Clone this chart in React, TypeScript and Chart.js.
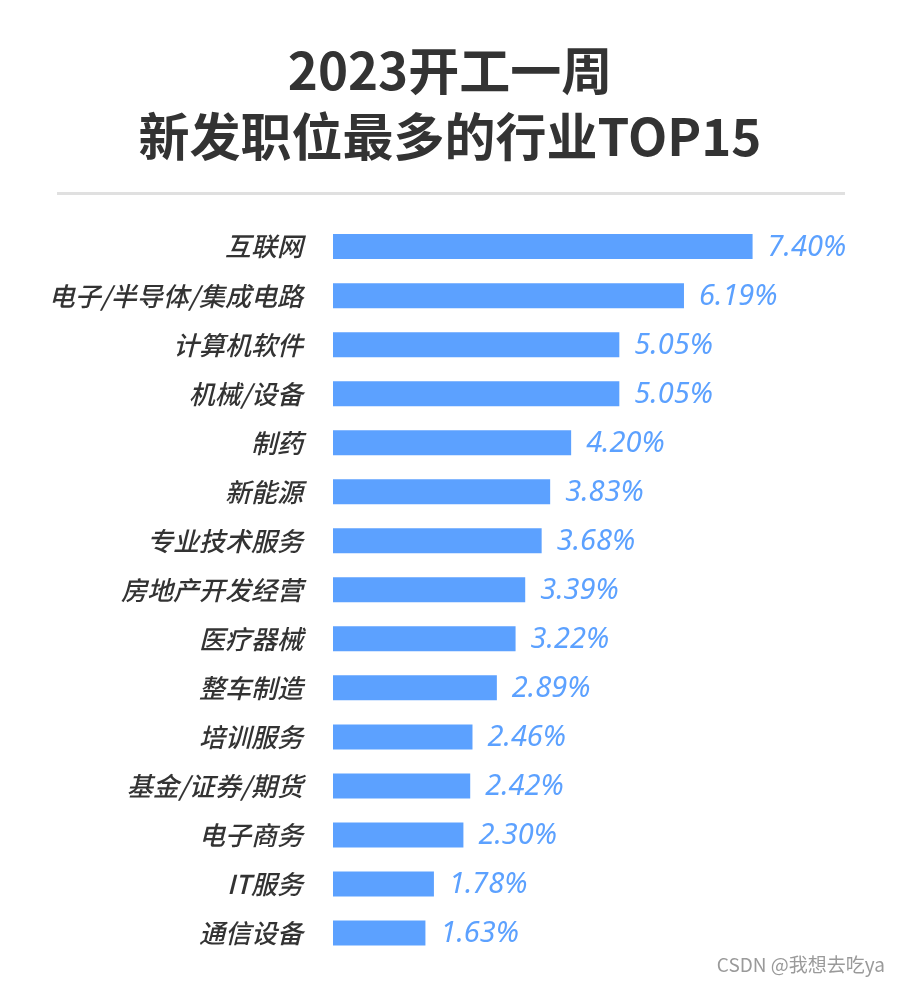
import React, { useEffect, useRef } from "react";
import { Chart, registerables } from "chart.js";

Chart.register(...registerables);

const titleLines = ["2023开工一周", "新发职位最多的行业TOP15"];
const categories = [
  "互联网",
  "电子/半导体/集成电路",
  "计算机软件",
  "机械/设备",
  "制药",
  "新能源",
  "专业技术服务",
  "房地产开发经营",
  "医疗器械",
  "整车制造",
  "培训服务",
  "基金/证券/期货",
  "电子商务",
  "IT服务",
  "通信设备",
];
const shares = [7.4, 6.19, 5.05, 5.05, 4.2, 3.83, 3.68, 3.39, 3.22, 2.89, 2.46, 2.42, 2.3, 1.78, 1.63];
const watermark = "CSDN @我想去吃ya";

const BLUE = "#5ca1ff";
const FONT = "'Noto Sans CJK SC', 'Noto Sans', sans-serif";

const separatorPlugin = {
  id: "separator",
  afterDraw(chart: any) {
    const ctx = chart.ctx;
    ctx.save();
    ctx.strokeStyle = "#e0e0e0";
    ctx.lineWidth = 3;
    ctx.beginPath();
    ctx.moveTo(57, 193.5);
    ctx.lineTo(845, 193.5);
    ctx.stroke();
    ctx.restore();
  },
};

const valueLabelPlugin = {
  id: "valueLabels",
  afterDatasetsDraw(chart: any) {
    const ctx = chart.ctx;
    const meta = chart.getDatasetMeta(0);
    const data = chart.data.datasets[0].data;
    ctx.save();
    ctx.fillStyle = BLUE;
    ctx.font = "italic 29px 'Noto Sans', 'Open Sans', sans-serif";
    ctx.textAlign = "left";
    ctx.textBaseline = "middle";
    meta.data.forEach((bar: any, i: number) => {
      ctx.fillText(`${Number(data[i]).toFixed(2)}%`, bar.x + 15, bar.y + 1);
    });
    ctx.restore();
  },
};

export default function App() {
  const ref = useRef<HTMLCanvasElement>(null);
  useEffect(() => {
    if (!ref.current) return;
    const chart = new Chart(ref.current, {
      type: "bar",
      data: {
        labels: categories,
        datasets: [
          {
            data: shares,
            backgroundColor: BLUE,
            borderWidth: 0,
            categoryPercentage: 1,
            barPercentage: 0.51,
          },
        ],
      },
      options: {
        indexAxis: "y",
        responsive: false,
        animation: false,
        layout: { padding: { left: 0, right: 0, top: 0, bottom: 25.5 } },
        plugins: {
          legend: { display: false },
          tooltip: { enabled: false },
          title: {
            display: true,
            text: titleLines,
            color: "#333333",
            font: { family: FONT, size: 51, weight: "bold", lineHeight: 1.3 },
            padding: { top: 37.5, bottom: 52 },
          },
        },
        scales: {
          x: {
            display: false,
            min: 0,
            max: 10,
          },
          y: {
            afterFit: (s: any) => {
              s.width = 333;
              s.paddingTop = 0;
              s.paddingBottom = 0;
            },
            grid: { display: false, drawTicks: false },
            border: { display: false },
            ticks: {
              color: "#333333",
              padding: 30,
              font: { family: FONT, size: 26, style: "italic", weight: "500" },
            },
          },
        },
      },
      plugins: [separatorPlugin, valueLabelPlugin],
    });
    return () => chart.destroy();
  }, []);

  return (
    <div style={{ position: "fixed", left: 0, top: 0, width: 900, height: 983, background: "#fff" }}>
      <canvas ref={ref} width={900} height={983} style={{ width: 900, height: 983, display: "block" }} />
      <div
        style={{
          position: "absolute",
          right: 15,
          top: 950,
          fontFamily: FONT,
          fontSize: 19,
          color: "#9a9a9a",
          whiteSpace: "nowrap",
        }}
      >
        {watermark}
      </div>
    </div>
  );
}
